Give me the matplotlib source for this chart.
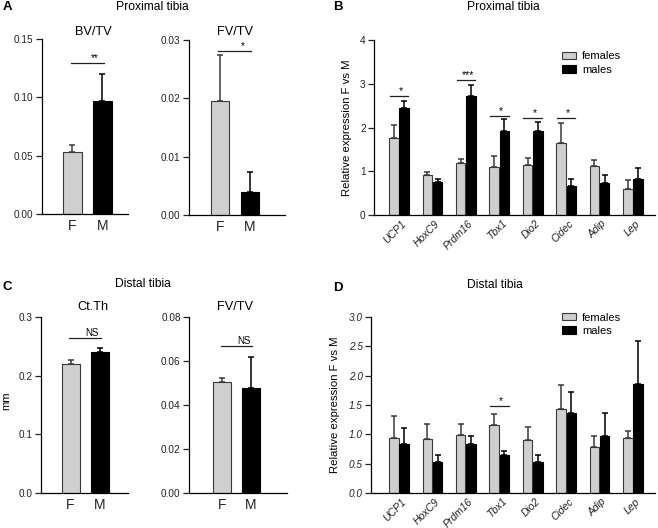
import numpy as np
import matplotlib
matplotlib.use("Agg")
import matplotlib.pyplot as plt
from matplotlib.transforms import ScaledTranslation

plt.rcParams['font.family'] = ['Liberation Sans', 'DejaVu Sans']

W, H = 658, 528

# panel A / C data (F, M)
groups = ['F', 'M']
bvtv = [0.053, 0.097]
bvtv_err = [0.0058, 0.023]
fvtv_prox = [0.0195, 0.0040]
fvtv_prox_err = [0.008, 0.0033]
ctth = [0.220, 0.240]
ctth_err = [0.007, 0.008]
fvtv_dist = [0.0506, 0.0476]
fvtv_dist_err = [0.0015, 0.0144]

# panel B / D data
genes = ['UCP1', 'HoxC9', 'Prdm16', 'Tbx1', 'Dio2', 'Cidec', 'Adip', 'Lep']
prox_f = [1.75, 0.91, 1.18, 1.10, 1.14, 1.64, 1.12, 0.59]
prox_f_err = [0.31, 0.08, 0.09, 0.25, 0.16, 0.47, 0.13, 0.20]
prox_m = [2.44, 0.76, 2.71, 1.91, 1.92, 0.66, 0.73, 0.83]
prox_m_err = [0.17, 0.06, 0.27, 0.28, 0.21, 0.17, 0.18, 0.25]
prox_sig = {0: ('*', 2.72), 2: ('***', 3.08), 3: ('*', 2.27), 4: ('*', 2.21), 5: ('*', 2.21)}

dist_f = [0.94, 0.92, 0.99, 1.16, 0.90, 1.44, 0.78, 0.94]
dist_f_err = [0.37, 0.26, 0.19, 0.19, 0.23, 0.40, 0.20, 0.11]
dist_m = [0.84, 0.52, 0.84, 0.64, 0.53, 1.36, 0.97, 1.86]
dist_m_err = [0.27, 0.12, 0.13, 0.08, 0.11, 0.36, 0.39, 0.73]
dist_sig = {3: ('*', 1.48)}

GREY = '#cfcfcf'
EDGE = '#3a3a3a'


def axes_px(x0, y0, x1, y1):
    # pixel box (left, top, right, bottom) -> figure axes
    return fig.add_axes([x0 / W, 1 - y1 / H, (x1 - x0) / W, (y1 - y0) / H])


def style(ax):
    for s in ['top', 'right']:
        ax.spines[s].set_visible(False)
    ax.spines['left'].set_linewidth(0.9)
    ax.spines['bottom'].set_linewidth(0.9)
    ax.tick_params(axis='y', length=4, width=0.9, labelsize=7.2, colors='#222222', pad=2)
    ax.tick_params(axis='x', length=0, colors='#222222')


def two_bar(ax, vals, errs, ylim, yticks, fmt, xlim, sig, sig_y):
    x = np.arange(2)
    ax.bar(x, vals, width=0.62, color=[GREY, 'black'], edgecolor=[EDGE, 'black'], linewidth=0.8, zorder=2)
    for i in range(2):
        ax.errorbar(x[i], vals[i], yerr=[[0], [errs[i]]], fmt='none',
                    ecolor=EDGE if i == 0 else 'black', elinewidth=1.1, capsize=2.5, capthick=1.1, zorder=1)
    ax.set_ylim(*ylim)
    ax.set_xlim(*xlim)
    ax.set_yticks(yticks)
    ax.set_yticklabels([fmt.format(t) for t in yticks])
    ax.set_xticks(x)
    ax.set_xticklabels(groups, fontsize=10)
    ax.plot([-0.05, 1.05], [sig_y, sig_y], color='#222222', lw=0.9, clip_on=False)
    ax.text(0.75, sig_y, sig, ha='center', va='bottom', fontsize=7)
    style(ax)


def gene_bars(ax, f, fe, m, me, ylim, yticks, fmt, xlim, sig, leg_anchor, italic_y=False):
    x = np.arange(len(genes))
    off, w = 0.155, 0.285
    ax.bar(x - off, f, width=w, color=GREY, edgecolor=EDGE, linewidth=0.8, zorder=2, label='females')
    ax.bar(x + off, m, width=w, color='black', edgecolor='black', linewidth=0.8, zorder=2, label='males')
    ax.errorbar(x - off, f, yerr=[np.zeros(len(f)), fe], fmt='none', ecolor=EDGE,
                elinewidth=1.1, capsize=2.5, capthick=1.1, zorder=1)
    ax.errorbar(x + off, m, yerr=[np.zeros(len(m)), me], fmt='none', ecolor='black',
                elinewidth=1.1, capsize=2.5, capthick=1.1, zorder=1)
    for i, (s, y) in sig.items():
        ax.plot([i - 0.28, i + 0.28], [y, y], color='#222222', lw=0.9)
        ax.text(i + 0.05, y, s, ha='center', va='bottom', fontsize=7.5)
    ax.set_ylim(*ylim)
    ax.set_xlim(*xlim)
    ax.set_yticks(yticks)
    ax.set_yticklabels([fmt.format(t) for t in yticks], style='italic' if italic_y else 'normal')
    ax.set_ylabel('Relative expression F vs M', fontsize=8.2, labelpad=6)
    style(ax)
    ax.tick_params(axis='x', pad=5)
    ax.set_xticks(x)
    labels = ax.set_xticklabels(genes, rotation=45, ha='right', va='center', rotation_mode='anchor',
                                style='italic', fontsize=7.5)
    # nudge the rotated names right, as in the original
    shift = ScaledTranslation(0.055, 0, fig.dpi_scale_trans)
    for lab in labels:
        lab.set_transform(lab.get_transform() + shift)
    ax.legend(loc='upper left', bbox_to_anchor=leg_anchor, frameon=False, fontsize=8,
              handlelength=1.3, handleheight=0.65, handletextpad=0.5, labelspacing=0.3,
              borderaxespad=0)


fig = plt.figure(figsize=(W / 100, H / 100), dpi=100)

# panel A
axA1 = axes_px(42, 39, 128, 214)
two_bar(axA1, bvtv, bvtv_err, (0, 0.15), [0, 0.05, 0.10, 0.15], '{:.2f}', (-1.02, 1.86), '**', 0.1294)
axA2 = axes_px(189, 40, 285, 215)
two_bar(axA2, fvtv_prox, fvtv_prox_err, (0, 0.03), [0, 0.01, 0.02, 0.03], '{:.2f}', (-1.03, 2.17), '*', 0.0281)

# panel C
axC1 = axes_px(41, 317, 128, 493)
two_bar(axC1, ctth, ctth_err, (0, 0.3), [0, 0.1, 0.2, 0.3], '{:.1f}', (-1.02, 1.98), 'NS', 0.265)
axC2 = axes_px(189, 317, 287, 493)
two_bar(axC2, fvtv_dist, fvtv_dist_err, (0, 0.08), [0, 0.02, 0.04, 0.06, 0.08], '{:.2f}', (-1.14, 2.24), 'NS', 0.0668)

# panel B
axB = axes_px(374, 40, 655, 215)
gene_bars(axB, prox_f, prox_f_err, prox_m, prox_m_err, (0, 4), [0, 1, 2, 3, 4], '{:.0f}', (-0.75, 7.66),
          prox_sig, (0.653, 0.96))

# panel D
axD = axes_px(371, 317, 655, 493)
gene_bars(axD, dist_f, dist_f_err, dist_m, dist_m_err, (0, 3), [0, 0.5, 1.0, 1.5, 2.0, 2.5, 3.0], '{:.1f}',
          (-0.84, 7.66), dist_sig, (0.657, 1.05), italic_y=True)

# titles and panel letters
def ftext(x, y, s, **kw):
    fig.text(x / W, 1 - y / H, s, ha='center', va='center', **kw)

ftext(152, 7, 'Proximal tibia', fontsize=8.7)
ftext(93, 32, 'BV/TV', fontsize=9.2)
ftext(235, 32, 'FV/TV', fontsize=9.2)
ftext(143, 284, 'Distal tibia', fontsize=8.7)
ftext(93, 307, 'Ct.Th', fontsize=9.2)
ftext(235, 307, 'FV/TV', fontsize=9.2)
ftext(503, 7, 'Proximal tibia', fontsize=8.7)
ftext(495, 285, 'Distal tibia', fontsize=8.7)
ftext(7, 7, 'A', fontsize=9.5, fontweight='bold')
ftext(338, 7, 'B', fontsize=9.5, fontweight='bold')
ftext(7, 287, 'C', fontsize=9.5, fontweight='bold')
ftext(338, 288, 'D', fontsize=9.5, fontweight='bold')
fig.text(6 / W, 1 - 401 / H, 'mm', rotation=90, ha='center', va='center', fontsize=8)

fig.savefig('out.png', dpi=100)
